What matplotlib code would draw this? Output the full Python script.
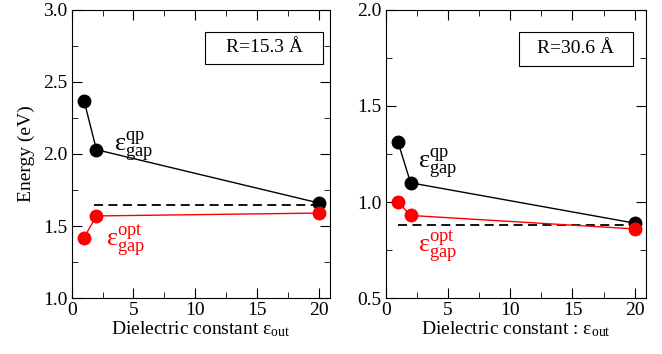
import numpy as np
import matplotlib
matplotlib.use("Agg")
import matplotlib.pyplot as plt
from matplotlib.ticker import MultipleLocator
from matplotlib.patches import Rectangle

plt.rcParams['font.family'] = ['Liberation Serif', 'DejaVu Serif']
plt.rcParams['mathtext.fontset'] = 'custom'
plt.rcParams['mathtext.rm'] = 'Liberation Serif'
plt.rcParams['mathtext.it'] = 'Liberation Serif:italic'

eps_out = [1, 2, 20]

# R = 15.3 A
qp_small = [2.37, 2.03, 1.66]
opt_small = [1.42, 1.57, 1.59]
ref_small = 1.646
dash_small = [1.8, 20.5]

# R = 30.6 A
qp_large = [1.31, 1.10, 0.89]
opt_large = [1.00, 0.93, 0.86]
ref_large = 0.879
dash_large = [1.0, 20.7]

fig = plt.figure(figsize=(6.62, 3.54), dpi=100)
ax1 = fig.add_axes([0.1083, 0.158, 0.3902, 0.814])
ax2 = fig.add_axes([0.5826, 0.158, 0.3932, 0.814])

panels = [
    (ax1, qp_small, opt_small, ref_small, dash_small, (1.0, 3.0),
     "R=15.3 Å", r"Dielectric constant $\mathrm{ε}_{\rm out}$",
     (3.4, 2.05), (2.8, 1.40), (0.745, 0.868, 0.457, 0.111)),
    (ax2, qp_large, opt_large, ref_large, dash_large, (0.5, 2.0),
     "R=30.6 Å", r"Dielectric constant : $\mathrm{ε}_{\rm out}$",
     (2.6, 1.20), (2.6, 0.765), (0.731, 0.865, 0.438, 0.118)),
]

for ax, qp, opt, ref, dash, ylim, rlabel, xlabel, qp_pos, opt_pos, box in panels:
    ax.plot(eps_out, qp, color="black", lw=1, marker="o", ms=9, zorder=3)
    ax.plot(eps_out, opt, color="red", lw=1, marker="o", ms=9, zorder=3)
    ax.plot(dash, [ref, ref], color="black", lw=1.3, ls=(0, (5, 3)), zorder=2)
    ax.set_xlim(0, 20.9)
    ax.set_ylim(*ylim)
    ax.xaxis.set_major_locator(MultipleLocator(5))
    ax.xaxis.set_minor_locator(MultipleLocator(2.5))
    ax.yaxis.set_major_locator(MultipleLocator(0.5))
    ax.yaxis.set_minor_locator(MultipleLocator(0.25))
    ax.tick_params(which="both", direction="in", top=True, right=True, labelsize=14, pad=3)
    ax.tick_params(which="major", length=7)
    ax.tick_params(which="minor", length=4)
    ax.set_xlabel(xlabel, fontsize=14, labelpad=0)
    cx, cy, bw, bh = box
    ax.add_patch(Rectangle((cx - bw / 2, cy - bh / 2), bw, bh, transform=ax.transAxes,
                           fc="white", ec="black", lw=0.8, zorder=4))
    ax.text(cx, cy, rlabel, transform=ax.transAxes, ha="center", va="center",
            fontsize=14, zorder=5)
    ax.text(qp_pos[0], qp_pos[1], r"$\mathrm{ε}^{\rm qp}_{\rm gap}$", fontsize=19,
            ha="left", va="center", color="black")
    ax.text(opt_pos[0], opt_pos[1], r"$\mathrm{ε}^{\rm opt}_{\rm gap}$", fontsize=19,
            ha="left", va="center", color="red")

ax1.set_ylabel("Energy (eV)", fontsize=14, labelpad=6)

fig.savefig("out.png", dpi=100)
